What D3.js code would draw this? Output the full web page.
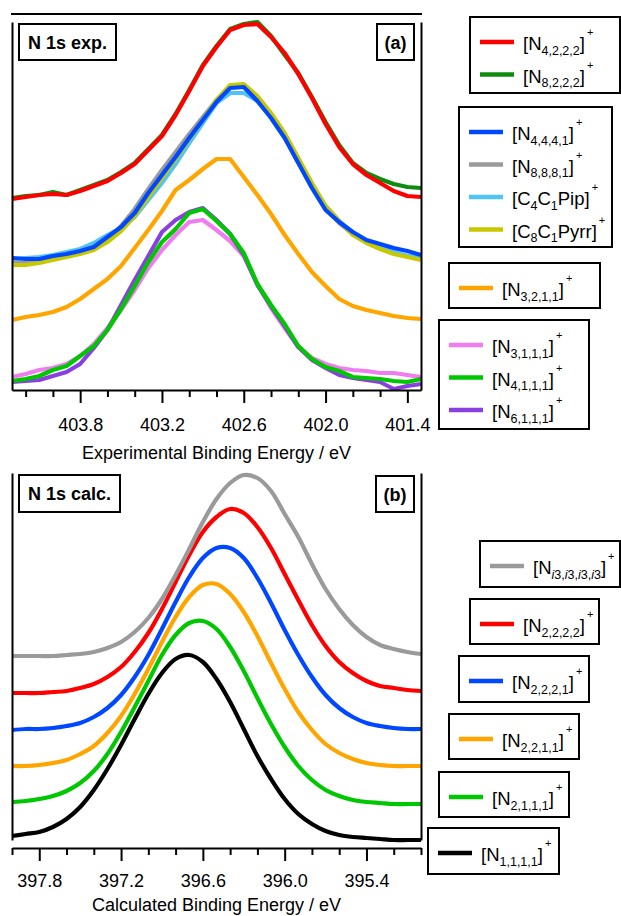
<!DOCTYPE html>
<html>
<head>
<meta charset="utf-8">
<script src="https://cdn.jsdelivr.net/npm/d3@7/dist/d3.min.js"></script>
<style>
  html, body { margin: 0; padding: 0; background: #fff; }
  svg { display: block; font-family: "Liberation Sans", Arial, Helvetica, sans-serif; }
</style>
</head>
<body>
<svg id="chart" width="621" height="916"></svg>
<script>
// ---------- binding-energy grids (eV) ----------
const expEnergy = [404.3, 404.2, 404.1, 404.0, 403.9, 403.8, 403.7, 403.6, 403.5, 403.4, 403.3,
                   403.2, 403.1, 403.0, 402.9, 402.8, 402.7, 402.6, 402.5, 402.4, 402.3, 402.2,
                   402.1, 402.0, 401.9, 401.8, 401.7, 401.6, 401.5, 401.4, 401.3];
const calcEnergy = [398.0, 397.9, 397.8, 397.7, 397.6, 397.5, 397.4, 397.3, 397.2, 397.1, 397.0,
                    396.9, 396.8, 396.7, 396.6, 396.5, 396.4, 396.3, 396.2, 396.1, 396.0, 395.9,
                    395.8, 395.7, 395.6, 395.5, 395.4, 395.3, 395.2, 395.1, 395.0];

// ---------- (a) experimental N 1s XPS, stacked intensities (arb. units) ----------
const expN4222 = [191,193,195,196,195,199,204,209,217,226,240,254,275,299,324,343,360,365,366,353,337,316,292,266,243,226,215,207,199,194,193];
const expN8222 = [192,194,195,198,195,200,205,210,218,227,241,255,276,300,325,344,361,366,368,354,335,317,293,268,245,227,217,211,206,203,202];
const expN8881 = [127,127,129,131,134,137,141,150,164,181,201,220,238,256,273,290,303,304,291,273,253,228,203,181,167,156,148,142,137,134,132];
const expC4C1Pip = [131,132,133,135,138,141,147,155,162,173,190,207,226,247,267,287,297,297,289,274,255,231,206,184,169,157,149,144,138,134,132];
const expC8C1Pyrr = [125,125,127,130,133,136,140,148,159,174,193,212,231,251,270,290,305,306,294,277,257,232,207,184,169,155,147,141,136,133,130];
const expN4441 = [132,131,131,134,136,139,143,153,163,177,197,215,233,252,270,288,302,303,289,272,252,227,202,180,168,158,150,146,142,139,135];
const expN3211 = [70,73,75,78,83,91,101,111,124,142,160,179,200,210,221,231,231,213,195,176,155,136,118,104,91,84,80,77,74,72,71];
const expN3111 = [13,16,20,22,26,34,46,62,80,100,122,140,155,168,170,160,149,134,106,82,62,43,32,26,22,20,19,17,17,15,13];
const expN6111 = [8,9,10,14,18,26,42,60,85,110,134,158,170,178,182,170,156,135,105,84,64,43,30,22,15,12,10,8,1,4,6];
const expN4111 = [9,11,14,20,24,34,44,60,81,104,128,148,161,177,181,169,156,137,106,85,66,44,31,23,19,13,12,11,9,8,11];

// ---------- (b) calculated N 1s spectra, stacked intensities (arb. units) ----------
const calcN1111 = [4,6,8,13,21,33,50,71,95,121,146,167,181,185,178,161,138,111,84,61,41,26,16,9,5,3,2,1,0,0,0];
const calcN2111 = [38,39,41,44,49,57,69,86,108,133,159,185,205,217,219,211,193,169,142,116,93,74,60,50,44,40,38,37,36,36,36];
const calcN2211 = [74,74,75,77,80,86,94,107,124,146,171,198,223,243,255,256,246,228,204,177,151,128,110,96,87,81,77,75,74,74,74];
const calcN2221 = [110,111,111,112,114,117,123,132,145,163,185,211,238,263,282,292,292,282,262,237,210,185,163,145,132,123,117,114,112,111,111];
const calcN2222 = [147,147,147,148,149,152,156,163,173,188,207,231,258,285,308,323,331,327,313,292,266,240,215,194,178,167,159,154,152,150,149];
const calcNi3 = [184,184,184,184,185,186,188,192,198,208,222,241,265,291,318,341,357,365,362,349,326,303,276,251,231,215,203,195,191,188,186];

// ---------- labels ----------
const expLabels = {
  N4222: "[N_{4,2,2,2}]^{+}", N8222: "[N_{8,2,2,2}]^{+}",
  N4441: "[N_{4,4,4,1}]^{+}", N8881: "[N_{8,8,8,1}]^{+}",
  C4C1Pip: "[C_{4}C_{1}Pip]^{+}", C8C1Pyrr: "[C_{8}C_{1}Pyrr]^{+}",
  N3211: "[N_{3,2,1,1}]^{+}",
  N3111: "[N_{3,1,1,1}]^{+}", N4111: "[N_{4,1,1,1}]^{+}", N6111: "[N_{6,1,1,1}]^{+}"
};
const calcLabels = {
  Ni3: "[N_{i3,i3,i3,i3}]^{+}", N2222: "[N_{2,2,2,2}]^{+}", N2221: "[N_{2,2,2,1}]^{+}",
  N2211: "[N_{2,2,1,1}]^{+}", N2111: "[N_{2,1,1,1}]^{+}", N1111: "[N_{1,1,1,1}]^{+}"
};
const expAxisTitle = "Experimental Binding Energy / eV";
const calcAxisTitle = "Calculated Binding Energy / eV";
const expTag = "N 1s exp.", calcTag = "N 1s calc.";
const expPanel = "(a)", calcPanel = "(b)";

const expTicksMajor = [403.8, 403.2, 402.6, 402.0, 401.4];
const expTicksMinor = [404.2, 404.0, 403.6, 403.4, 403.0, 402.8, 402.4, 402.2, 401.8, 401.6];
const calcTicksMajor = [397.8, 397.2, 396.6, 396.0, 395.4];
const calcTicksMinor = [398.0, 397.6, 397.4, 397.0, 396.8, 396.4, 396.2, 395.8, 395.6, 395.2, 395.0];

// ---------- styles ----------
const colors = {
  N4222: "#ff0000", N8222: "#0f8c0f",
  N4441: "#0048ff", N8881: "#9a9a9a", C4C1Pip: "#52c3f7", C8C1Pyrr: "#c8c800",
  N3211: "#ffa500",
  N3111: "#f07cf0", N4111: "#00c800", N6111: "#8a3fe0",
  Ni3: "#9a9a9a", N2222: "#ff0000", N2221: "#0048ff", N2211: "#ffa500", N2111: "#00c800", N1111: "#000000"
};

// series in drawing order
const expSeries = [
  ["N8222", expN8222], ["N4222", expN4222],
  ["N8881", expN8881], ["C4C1Pip", expC4C1Pip], ["C8C1Pyrr", expC8C1Pyrr], ["N4441", expN4441],
  ["N3211", expN3211],
  ["N3111", expN3111], ["N6111", expN6111], ["N4111", expN4111]
];
const calcSeries = [
  ["N1111", calcN1111], ["N2111", calcN2111], ["N2211", calcN2211],
  ["N2221", calcN2221], ["N2222", calcN2222], ["Ni3", calcNi3]
];

// legend groupings
const expLegendGroups = [["N4222", "N8222"], ["N4441", "N8881", "C4C1Pip", "C8C1Pyrr"], ["N3211"], ["N3111", "N4111", "N6111"]];
const calcLegendGroups = [["Ni3"], ["N2222"], ["N2221"], ["N2211"], ["N2111"], ["N1111"]];

// ---------- layout ----------
const L = {
  left: 12, right: 421,
  a: { top: 22, bottom: 390, frameTop: 14, axisY: 390, labelBase: 431, titleBase: 459 },
  b: { top: 473, bottom: 840, axisY: 848, labelBase: 887, titleBase: 911 },
  expBoxes: [ {x: 470, y: 17, w: 150, h: 76}, {x: 459, y: 107, w: 153, h: 140},
              {x: 449, y: 263, w: 151, h: 45}, {x: 439, y: 320, w: 150, h: 109} ],
  calcBoxes: [ {x: 480, y: 541, w: 140, h: 46}, {x: 470, y: 599, w: 129, h: 45},
               {x: 459, y: 656, w: 130, h: 46}, {x: 449, y: 714, w: 130, h: 45},
               {x: 439, y: 772, w: 130, h: 45}, {x: 428, y: 828, w: 131, h: 46} ]
};

const svg = d3.select("#chart");

const xA = d3.scaleLinear().domain([404.3, 401.3]).range([L.left, L.right]);
const yA = d3.scaleLinear().domain([0, 368]).range([L.a.bottom, L.a.top]);
const xB = d3.scaleLinear().domain([398.0, 395.0]).range([L.left, L.right]);
const yB = d3.scaleLinear().domain([0, 367]).range([L.b.bottom, L.b.top]);

// ---------- curves ----------
function drawSeries(series, energy, x, y, curve) {
  const line = d3.line().x((d, i) => x(energy[i])).y(d => y(d)).curve(curve);
  svg.append("g").selectAll("path").data(series).join("path")
    .attr("d", d => line(d[1]))
    .attr("fill", "none")
    .attr("stroke", d => colors[d[0]])
    .attr("stroke-width", 4.2)
    .attr("stroke-linejoin", "round")
    .attr("stroke-linecap", "butt");
}
drawSeries(expSeries, expEnergy, xA, yA, d3.curveLinear);
drawSeries(calcSeries, calcEnergy, xB, yB, d3.curveCatmullRom.alpha(0.5));

// ---------- axes ----------
function xAxis(x, yPos, major, minor, labelBase) {
  const g = svg.append("g").attr("transform", `translate(0,${yPos})`);
  const tickPad = labelBase - yPos - 13 - 0.71 * 18;
  g.call(d3.axisBottom(x).tickValues(major).tickFormat(d3.format(".1f"))
          .tickSize(13).tickSizeOuter(0).tickPadding(tickPad));
  g.append("g").call(d3.axisBottom(x).tickValues(minor).tickFormat("").tickSize(7).tickSizeOuter(0))
    .select(".domain").remove();
  g.selectAll("path, line").attr("stroke", "#000").attr("stroke-width", 2);
  g.selectAll("text").attr("font-size", 18).attr("fill", "#000")
    .attr("font-family", '"Liberation Sans", Arial, sans-serif');
}
function yAxes(y, x) {
  svg.append("g").attr("transform", `translate(${x.range()[0]},0)`)
    .call(d3.axisLeft(y).tickValues([]).tickSizeOuter(0))
    .selectAll("path").attr("stroke", "#000").attr("stroke-width", 2);
  svg.append("g").attr("transform", `translate(${x.range()[1]},0)`)
    .call(d3.axisRight(y).tickValues([]).tickSizeOuter(0))
    .selectAll("path").attr("stroke", "#000").attr("stroke-width", 2);
}
xAxis(xA, L.a.axisY, expTicksMajor, expTicksMinor, L.a.labelBase);
yAxes(yA, xA);
svg.append("line").attr("x1", L.left - 1).attr("x2", L.right + 1)
  .attr("y1", L.a.frameTop).attr("y2", L.a.frameTop)
  .attr("stroke", "#000").attr("stroke-width", 2);
xAxis(xB, L.b.axisY, calcTicksMajor, calcTicksMinor, L.b.labelBase);
yAxes(yB, xB);

// axis titles
const midX = (L.left + L.right) / 2;
svg.append("text").attr("x", midX).attr("y", L.a.titleBase).attr("text-anchor", "middle")
  .attr("font-size", 18).text(expAxisTitle);
svg.append("text").attr("x", midX).attr("y", L.b.titleBase).attr("text-anchor", "middle")
  .attr("font-size", 18).text(calcAxisTitle);

// ---------- boxed tags ----------
function tag(txt, x, y, w, h, anchor) {
  svg.append("rect").attr("x", x).attr("y", y).attr("width", w).attr("height", h)
    .attr("fill", "#fff").attr("stroke", "#000").attr("stroke-width", 2);
  svg.append("text")
    .attr("x", anchor === "middle" ? x + w / 2 : x + 9)
    .attr("y", y + h / 2 + 6.5)
    .attr("text-anchor", anchor)
    .attr("font-size", 18).attr("font-weight", "bold").text(txt);
}
tag(expTag, 19, 24, 97, 36, "start");
tag(expPanel, 377, 24, 37, 36, "middle");
tag(calcTag, 19, 475, 101, 37, "start");
tag(calcPanel, 376, 476, 38, 36, "middle");

// ---------- rich labels: _{subscript}, ^{superscript} ----------
function richLabel(textSel, label) {
  const tokens = label.match(/_\{[^}]*\}|\^\{[^}]*\}|[^_^]+/g);
  let shift = 0;
  tokens.forEach(tok => {
    if (tok.startsWith("_{")) {
      const body = tok.slice(2, -1);
      const runs = body.match(/[A-Za-z]+|[^A-Za-z]+/g);
      runs.forEach((r, k) => {
        const t = textSel.append("tspan").attr("font-size", 12.5).text(r);
        if (/[A-Za-z]/.test(r)) t.attr("font-style", "italic");
        if (k === 0) { t.attr("dy", 4.5 - shift); }
      });
      shift = 4.5;
    } else if (tok.startsWith("^{")) {
      textSel.append("tspan").attr("font-size", 11).attr("dx", 2)
        .attr("dy", -14 - shift).text(tok.slice(2, -1));
      shift = -14;
    } else {
      textSel.append("tspan").attr("font-size", 18.5).attr("dy", -shift).text(tok);
      shift = 0;
    }
  });
}

function legend(groups, boxes, labels) {
  groups.forEach((keys, gi) => {
    const b = boxes[gi];
    const g = svg.append("g");
    g.append("rect").attr("x", b.x).attr("y", b.y).attr("width", b.w).attr("height", b.h)
      .attr("fill", "#fff").attr("stroke", "#000").attr("stroke-width", 2);
    keys.forEach((k, ri) => {
      const cy = b.y + 25 + ri * 32.5;
      g.append("line").attr("x1", b.x + 10).attr("x2", b.x + 44)
        .attr("y1", cy).attr("y2", cy)
        .attr("stroke", colors[k]).attr("stroke-width", 4.6);
      const t = g.append("text").attr("x", b.x + 53).attr("y", cy + 8).attr("fill", "#000");
      richLabel(t, labels[k]);
    });
  });
}
legend(expLegendGroups, L.expBoxes, expLabels);
legend(calcLegendGroups, L.calcBoxes, calcLabels);
</script>
</body>
</html>
